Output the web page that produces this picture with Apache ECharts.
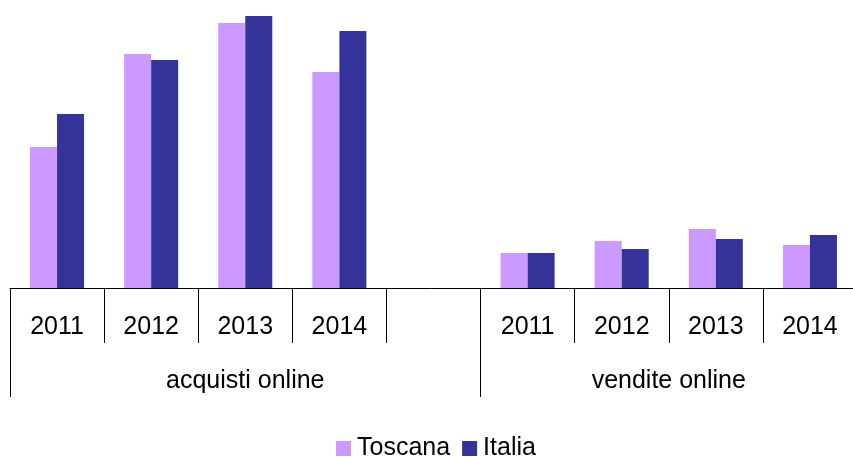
<!DOCTYPE html>
<html>
<head>
<meta charset="utf-8">
<script src="https://cdn.jsdelivr.net/npm/echarts@6/dist/echarts.min.js"></script>
<style>
  html, body { margin: 0; padding: 0; background: #fff; }
  #chart { width: 853px; height: 457px; }
</style>
</head>
<body>
<div id="chart"></div>
<script>
// Year slots, with an empty slot separating the two groups
const categories = ['2011', '2012', '2013', '2014', '', '2011', '2012', '2013', '2014'];
const toscana = [14.1, 23.4, 26.5, 21.6, null, 3.5, 4.7, 5.9, 4.3];
const italia  = [17.4, 22.8, 27.2, 25.7, null, 3.5, 3.9, 4.9, 5.3];

// Second-level groups: name, first slot, slot after the last one
const groupNames  = ['acquisti online', 'vendite online'];
const groupStarts = [0, 5];
const groupEnds   = [5, 9];

const groupBounds = [0].concat(groupEnds);
const groupCenters = groupStarts.map((s, i) => (s + groupEnds[i]) / 2);

const FONT = '"Liberation Sans", Arial, sans-serif';

const chart = echarts.init(document.getElementById('chart'), null, { renderer: 'canvas' });

chart.setOption({
  animation: false,
  grid: { left: 10, width: 847, top: 8, bottom: 169, containLabel: false, outerBoundsMode: 'none' },
  legend: {
    data: ['Toscana', 'Italia'],
    left: 331,
    top: 431,
    icon: 'rect',
    itemWidth: 15,
    itemHeight: 15,
    itemGap: 12,
    textStyle: { fontFamily: FONT, fontSize: 25, color: '#000', padding: [0, 0, 0, 1] }
  },
  xAxis: [
    {
      type: 'category',
      data: categories,
      boundaryGap: true,
      axisLine: { show: true, lineStyle: { color: '#000', width: 1 } },
      axisTick: { show: true, interval: 0, length: 55, alignWithLabel: false, lineStyle: { color: '#000' } },
      axisLabel: { interval: 0, margin: 27, fontFamily: FONT, fontSize: 25, color: '#000' }
    },
    {
      type: 'value',
      min: 0,
      max: categories.length,
      position: 'bottom',
      axisLine: { show: false },
      splitLine: { show: false },
      axisTick: { show: true, customValues: groupBounds, length: 109, lineStyle: { color: '#000' } },
      axisLabel: {
        customValues: groupCenters,
        margin: 81,
        fontFamily: FONT,
        fontSize: 25,
        color: '#000',
        formatter: v => groupNames[groupCenters.indexOf(v)]
      }
    }
  ],
  yAxis: { type: 'value', min: 0, max: 28, show: false, splitLine: { show: false } },
  series: [
    {
      name: 'Toscana',
      type: 'bar',
      data: toscana,
      barWidth: 27,
      barGap: '0%',
      itemStyle: { color: '#CC99FF' }
    },
    {
      name: 'Italia',
      type: 'bar',
      data: italia,
      barWidth: 27,
      barGap: '0%',
      itemStyle: { color: '#333399' }
    }
  ]
});
</script>
</body>
</html>
